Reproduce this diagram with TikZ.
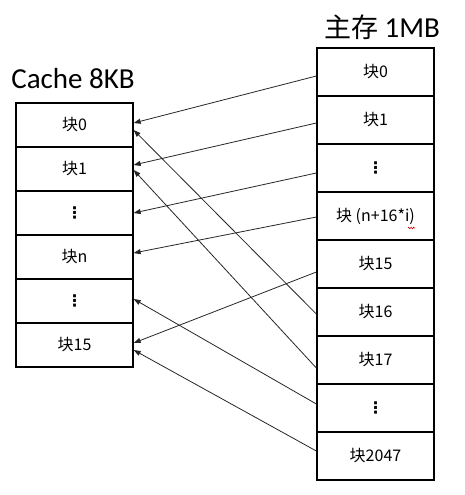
\documentclass[tikz,border=0pt]{standalone}
\usepackage{fontspec}
\setmainfont{Carlito}
\newfontfamily\cjk{Noto Sans CJK SC}
\newfontfamily\dejavu{DejaVu Sans}
\usetikzlibrary{arrows.meta,calc,decorations.pathmorphing}
\newcommand{\vdotsym}{{\dejavu\bfseries\fontsize{16}{18}\selectfont ⋮}}
\begin{document}
\begin{tikzpicture}[x=1pt,y=-1pt,
  cachecell/.style={draw=black,line width=1.3pt,minimum width=117pt,minimum height=44pt,inner sep=0pt,font=\cjk\fontsize{16}{18}\selectfont},
  memcell/.style={draw=black,line width=1.3pt,minimum width=117pt,minimum height=48pt,inner sep=0pt,font=\cjk\fontsize{16}{18}\selectfont},
  maparrow/.style={draw=black!85,line width=0.8pt,-{Triangle[length=7pt,width=5pt]}},
  title/.style={inner sep=0pt,font=\fontsize{29}{32}\selectfont}]
\useasboundingbox (0,0) rectangle (464,495);
\node[title] (ct) at (73,79) {Cache 8KB};
\node[title] (mt) at (382,27) {{\cjk\fontsize{27}{32}\selectfont 主存} 1MB};
% cache cells
\node[cachecell] (c0) at (74.5,125) {块0};
\node[cachecell] (c1) at (74.5,169) {块1};
\node[cachecell] (c2) at (74.5,213) {\vdotsym};
\node[cachecell] (c3) at (74.5,257) {块n};
\node[cachecell] (c4) at (74.5,301) {\vdotsym};
\node[cachecell] (c5) at (74.5,345) {块15};
% memory cells
\node[memcell] (m0) at (375.5,72) {块0};
\node[memcell] (m1) at (375.5,120) {块1};
\node[memcell] (m2) at (375.5,168) {\vdotsym};
\node[memcell] (m3) at (375.5,216) {块 (n+16*i)};
\node[memcell] (m4) at (375.5,264) {块15};
\node[memcell] (m5) at (375.5,312) {块16};
\node[memcell] (m6) at (375.5,360) {块17};
\node[memcell] (m7) at (375.5,408) {\vdotsym};
\node[memcell] (m8) at (375.5,456) {块2047};
% spell-check squiggle under i
\coordinate (sq1) at ($(m3.center)+(32.5,12)$);
\coordinate (sq2) at ($(m3.center)+(39.5,12)$);
\draw[red!80!black,line width=0.6pt,decorate,decoration={zigzag,segment length=2.5pt,amplitude=0.8pt}] (sq1) -- (sq2);
% arrows
\draw[maparrow] ($(m0.west)+(0,4)$) -- ($(c0.east)+(0,-2)$);
\draw[maparrow] ($(m1.west)+(0,3)$) -- ($(c1.east)+(0,-4)$);
\draw[maparrow] ($(m2.west)+(0,5)$) -- (c2.east);
\draw[maparrow] ($(m3.west)+(0,1)$) -- ($(c3.east)+(0,-4)$);
\draw[maparrow] ($(m4.west)+(0,8)$) -- ($(c5.east)+(0,-2)$);
\draw[maparrow] ($(m5.west)+(0,2)$) -- ($(c0.east)+(0,5)$);
\draw[maparrow] ($(m6.west)+(0,8)$) -- ($(c1.east)+(0,1)$);
\draw[maparrow] ($(m7.west)+(0,-4)$) -- ($(c4.east)+(0,-2)$);
\draw[maparrow] ($(m8.west)+(0,-5)$) -- ($(c5.east)+(0,5)$);
\end{tikzpicture}
\end{document}
